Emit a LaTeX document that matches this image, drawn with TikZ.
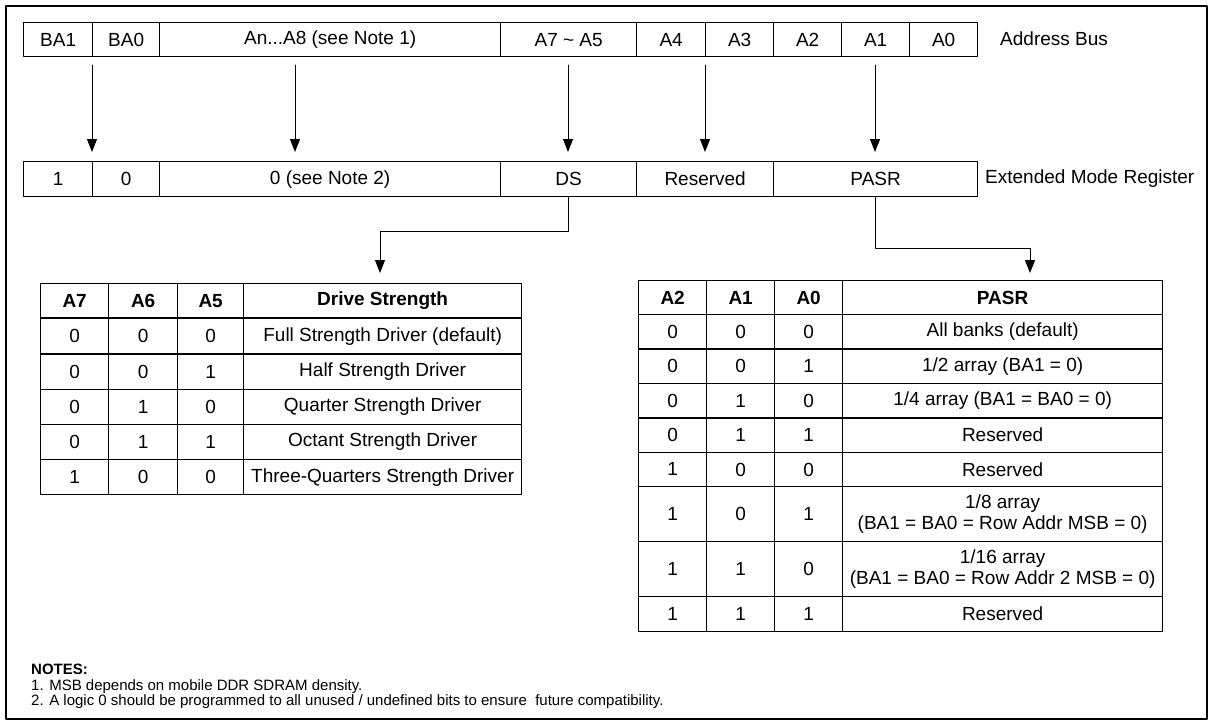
\documentclass[tikz,border=0pt]{standalone}
\usepackage{fontspec}
\setmainfont{Liberation Sans}
\usetikzlibrary{arrows.meta}

\begin{document}
\begin{tikzpicture}[line cap=round,line join=round,>={Triangle[width=10pt,length=13pt]},x=1pt,y=-1pt,
  cell/.style={draw,line width=1.3pt,inner sep=0pt,anchor=north west,align=center,font=\fontsize{19}{21}\selectfont},
  head/.style={cell,font=\fontsize{19}{21}\selectfont\bfseries},
  lbl/.style={anchor=west,inner sep=0pt,font=\fontsize{19}{21}\selectfont},
  link/.style={line width=1pt,->}]
\useasboundingbox (0,0) rectangle (1212,724);
\draw [line width=2.5pt] (6,6) rectangle (1207,719);
% address bus
\foreach \xa/\w/\t [count=\i] in {23/69/BA1,92/67/BA0,159/341/{An...A8 (see Note 1)},500/136/{A7 \textasciitilde{} A5},636/69/A4,705/68/A3,773/68/A2,841/68/A1,909/68/A0}
  \node[cell,minimum width=\w,minimum height=34] (bus\i) at (\xa,22) {\t};
\node[lbl] (buslbl) at (1000,39) {Address Bus};
% extended mode register
\foreach \xa/\w/\t [count=\i] in {23/69/1,92/67/0,159/341/{0 (see Note 2)},500/136/DS,636/137/Reserved,773/204/PASR}
  \node[cell,minimum width=\w,minimum height=35] (emr\i) at (\xa,161) {\t};
\node[lbl] (emrlbl) at (985,178.5) {Extended Mode Register};
\foreach \xa [count=\i] in {92,295,568,705,875} {
  \coordinate (from\i) at (\xa,65);
  \coordinate (to\i) at (\xa,152);
  \draw[link] (from\i) -- (to\i);
}
\coordinate (dsin) at (380,273);
\coordinate (pasrin) at (1030,273);
\draw[link] (emr4.south) -- ++(0,34) -| (dsin);
\draw[link] (emr6.south) -- ++(0,51) -| (pasrin);
% drive strength table
\foreach \xa/\w/\t [count=\c] in {40/68/A7,108/69/A6,177/66/A5,243/278/Drive Strength}
  \node[head,minimum width=\w,minimum height=34] (ds-0-\c) at (\xa,283) {\t};
\foreach \a/\b/\cc/\t [count=\r] in {0/0/0/{Full Strength Driver (default)},0/0/1/{Half Strength Driver},0/1/0/{Quarter Strength Driver},0/1/1/{Octant Strength Driver},1/0/0/{Three-Quarters Strength Driver}} {
  \pgfmathsetmacro\ya{283+35.17*\r}
  \node[cell,minimum width=68,minimum height=35.17] (ds-\r-1) at (40,\ya) {\a};
  \node[cell,minimum width=69,minimum height=35.17] (ds-\r-2) at (108,\ya) {\b};
  \node[cell,minimum width=66,minimum height=35.17] (ds-\r-3) at (177,\ya) {\cc};
  \node[cell,minimum width=278,minimum height=35.17] (ds-\r-4) at (243,\ya) {\t};
}
% pasr table
\foreach \xa/\w/\t [count=\c] in {638/68/A2,706/68/A1,774/68/A0,842/320/PASR}
  \node[head,minimum width=\w,minimum height=34] (pasr-0-\c) at (\xa,280) {\t};
\foreach \ya/\h/\a/\b/\cc/\t [count=\r] in {314/34.4/0/0/0/{All banks (default)},348.4/34.4/0/0/1/{1/2 array (BA1 = 0)},382.8/34.4/0/1/0/{1/4 array (BA1 = BA0 = 0)},417.2/34.4/0/1/1/Reserved,451.6/34.4/1/0/0/Reserved,486/55/1/0/1/{1/8 array\\(BA1 = BA0 = Row Addr MSB = 0)},541/55/1/1/0/{1/16 array\\(BA1 = BA0 = Row Addr 2 MSB = 0)},596/35/1/1/1/Reserved} {
  \node[cell,minimum width=68,minimum height=\h] (pasr-\r-1) at (638,\ya) {\a};
  \node[cell,minimum width=68,minimum height=\h] (pasr-\r-2) at (706,\ya) {\b};
  \node[cell,minimum width=68,minimum height=\h] (pasr-\r-3) at (774,\ya) {\cc};
  \node[cell,minimum width=320,minimum height=\h] (pasr-\r-4) at (842,\ya) {\t};
}
% notes
\node[anchor=north west,inner sep=0pt,align=left,font=\fontsize{15}{15.5}\selectfont] (notes) at (31,664)
  {\textbf{NOTES:}\\1. MSB depends on mobile DDR SDRAM density.\\2. A logic 0 should be programmed to all unused / undefined bits to ensure\ \ future compatibility.};
\end{tikzpicture}
\end{document}
